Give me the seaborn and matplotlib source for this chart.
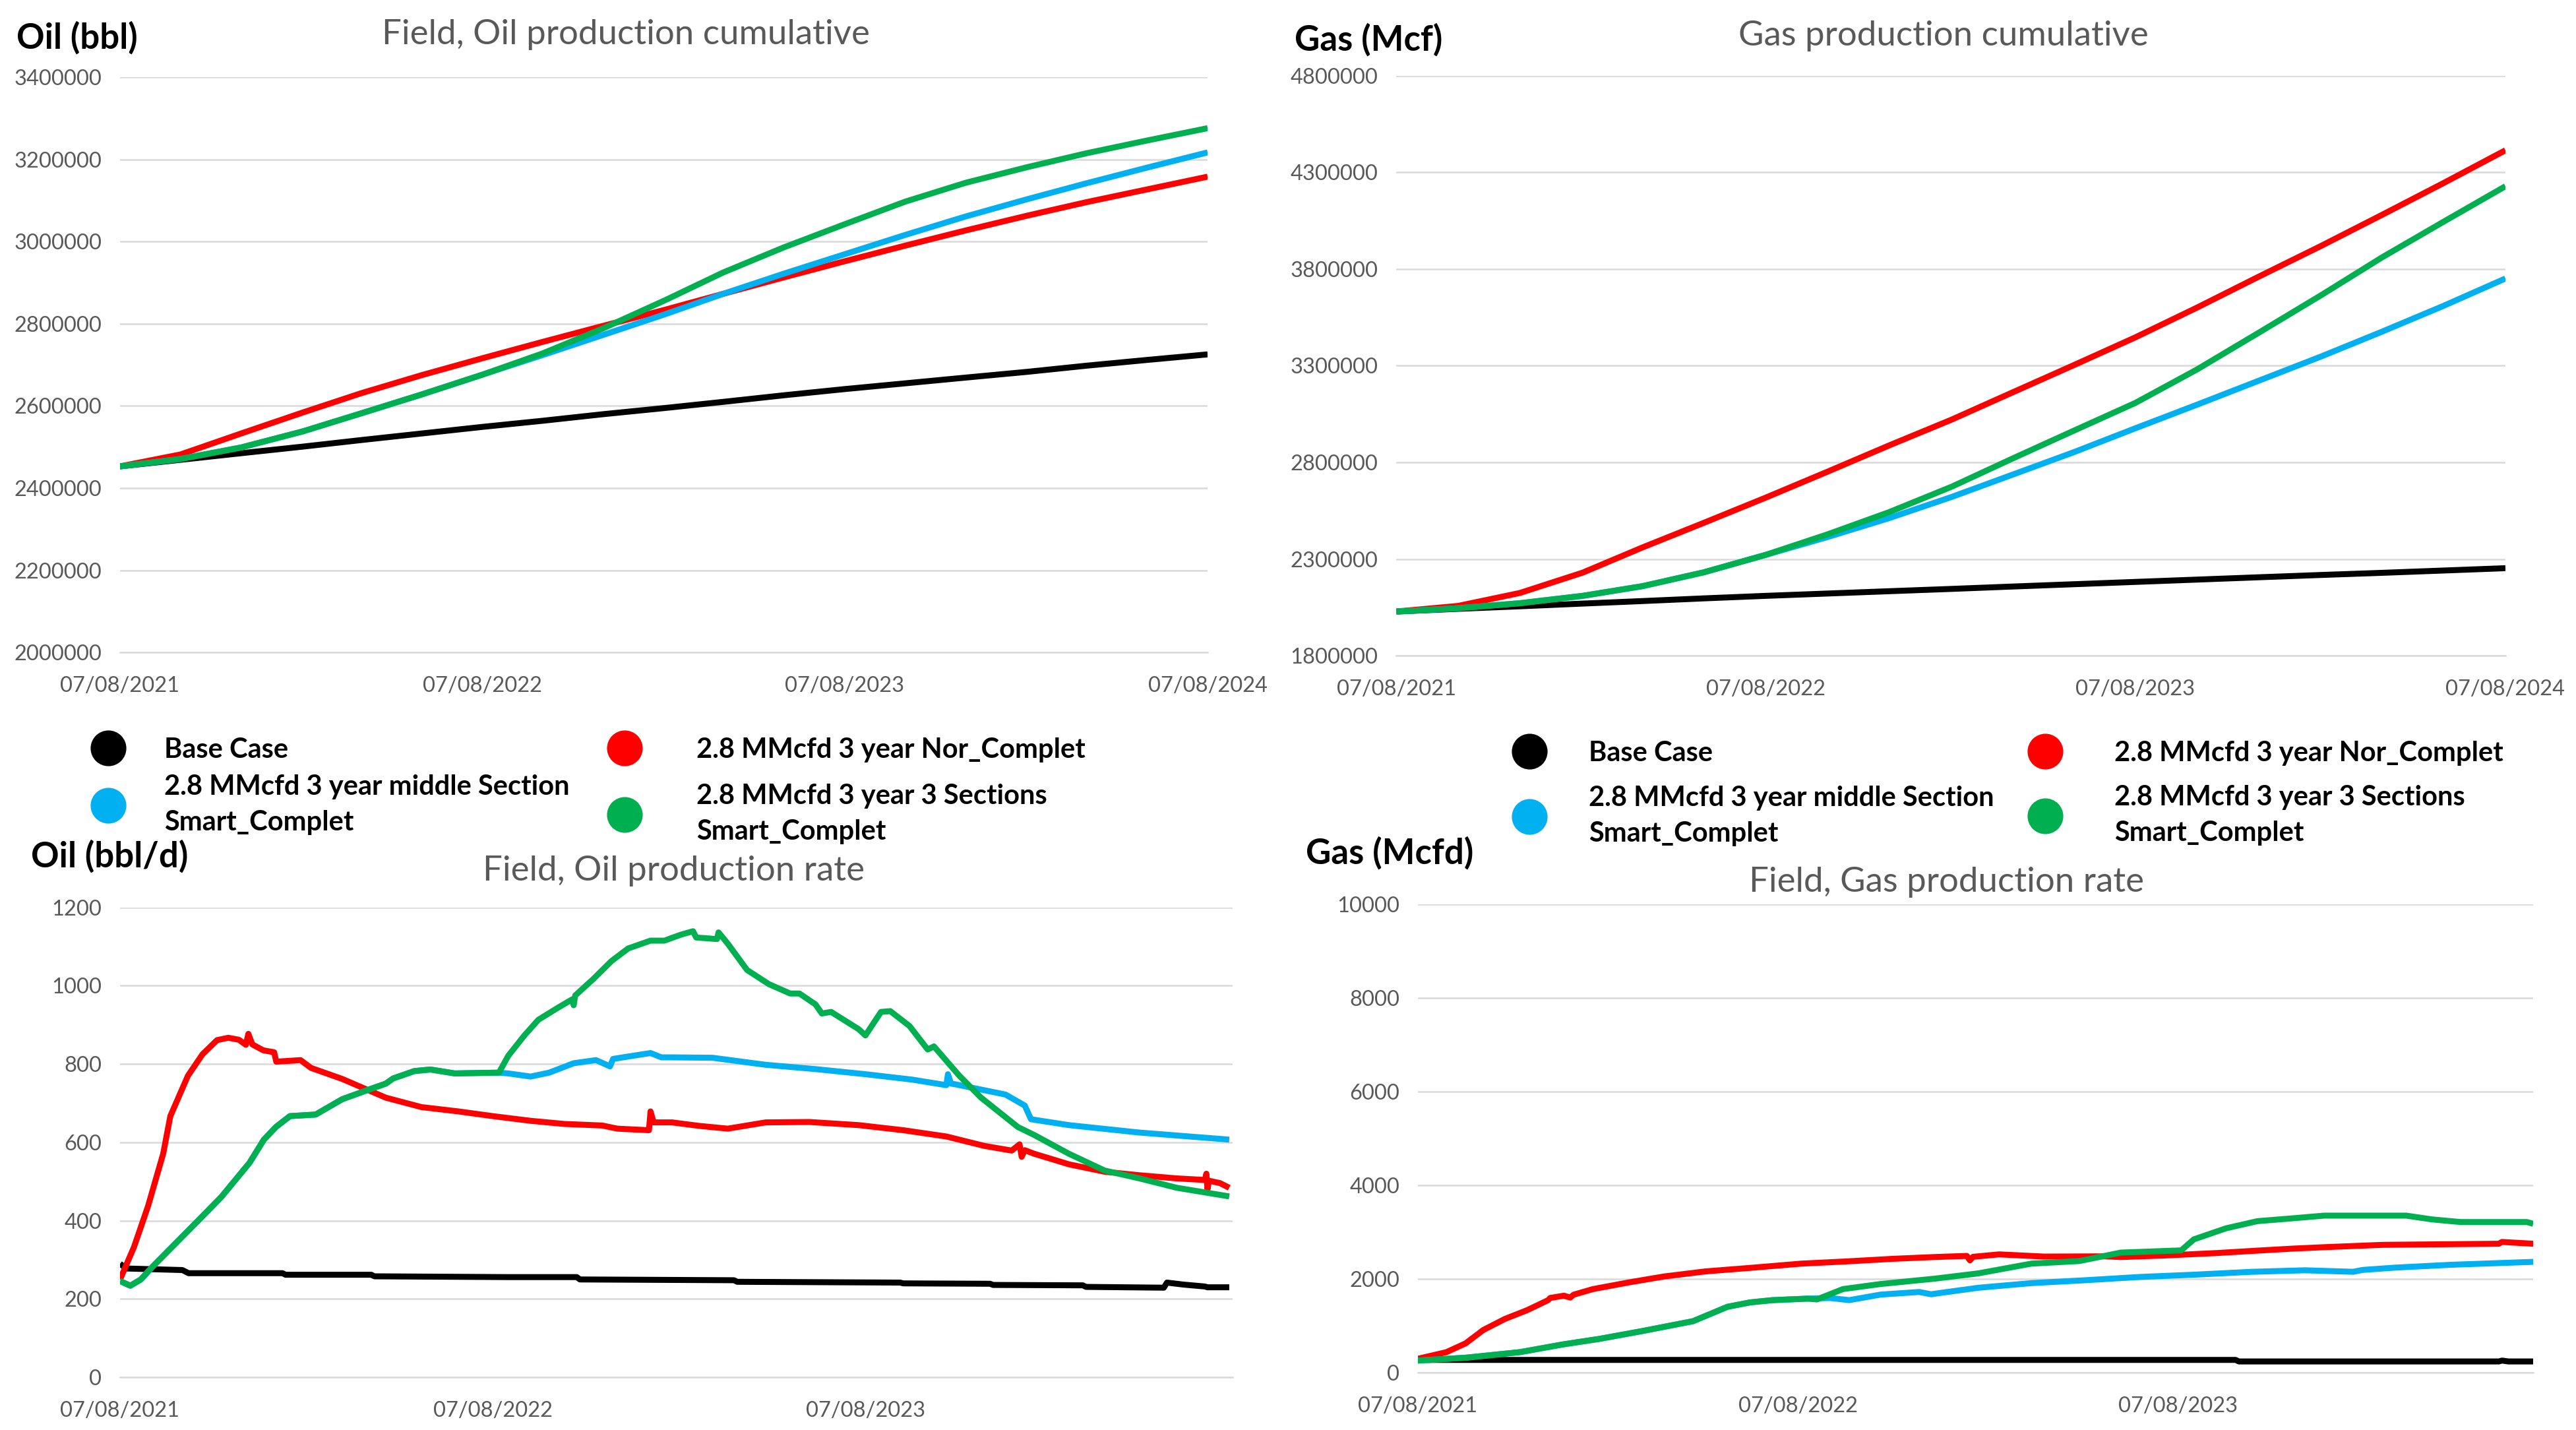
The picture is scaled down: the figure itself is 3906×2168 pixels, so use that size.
import numpy as np
import pandas as pd
import matplotlib
matplotlib.use("Agg")
import matplotlib.pyplot as plt
import matplotlib.dates as mdates
from matplotlib.lines import Line2D
import seaborn as sns

# ---------------- data ----------------
START = pd.Timestamp("2021-08-07")
CASES = ["Base Case",
         "2.8 MMcfd 3 year Nor_Complet",
         "2.8 MMcfd 3 year middle Section\nSmart_Complet",
         "2.8 MMcfd 3 year 3 Sections\nSmart_Complet"]
COLORS = ["#000000", "#FF0000", "#00B0F0", "#00B050"]

# cumulative curves, sampled every 2 months from 07/08/2021
cum_months = [0, 2, 4, 6, 8, 10, 12, 14, 16, 18, 20, 22, 24, 26, 28, 30, 32, 34, 36]
oil_cum_base = [2453000, 2469000, 2485000, 2501000, 2517000, 2533000, 2549000, 2564000, 2580000, 2595000,
                2610000, 2626000, 2641000, 2655000, 2669000, 2683000, 2698000, 2712000, 2725500]
oil_cum_nor = [2453000, 2482000, 2533000, 2584000, 2631000, 2675000, 2716000, 2756000, 2795000, 2834000,
               2873000, 2913000, 2952000, 2990000, 3027000, 3063000, 3096000, 3127000, 3158000]
oil_cum_mid = [2453000, 2471000, 2499000, 2538000, 2582000, 2628000, 2676000, 2724000, 2773000, 2823000,
               2873000, 2922000, 2969000, 3016000, 3061000, 3103000, 3142000, 3180000, 3217000]
oil_cum_3sec = [2453000, 2471000, 2499000, 2538000, 2582000, 2628000, 2676000, 2728000, 2789000, 2857000,
                2925000, 2986000, 3042000, 3097000, 3143000, 3181000, 3215000, 3246000, 3276000]

gas_cum_base = [2029000, 2043000, 2056000, 2070000, 2083000, 2097000, 2110000, 2122000, 2134000, 2146000,
                2158000, 2170000, 2182000, 2194000, 2206000, 2218000, 2229000, 2241000, 2253000]
gas_cum_nor = [2029000, 2058000, 2125000, 2230000, 2360000, 2488000, 2618000, 2752000, 2888000, 3022000,
               3160000, 3302000, 3446000, 3600000, 3760000, 3920000, 4080000, 4245000, 4414000]
gas_cum_mid = [2029000, 2046000, 2072000, 2110000, 2160000, 2232000, 2322000, 2414000, 2512000, 2622000,
               2735000, 2852000, 2976000, 3098000, 3222000, 3348000, 3476000, 3610000, 3751000]
gas_cum_3sec = [2029000, 2046000, 2072000, 2110000, 2160000, 2232000, 2322000, 2428000, 2543000, 2675000,
                2818000, 2963000, 3107000, 3280000, 3470000, 3665000, 3860000, 4045000, 4228000]

# oil rate (bbl/d): month offsets from 07/08/2021 and values
oil_rate_base_m = [0, 0.2, 2.0, 2.2, 5.2, 5.3, 8.1, 8.2, 12.5, 14.7, 14.8, 19.8, 19.9, 25.1, 25.2, 28.0,
                   28.1, 31.0, 31.1, 33.6, 33.7, 34.2, 34.9, 35.0, 35.7]
oil_rate_base = [290, 278, 274, 266, 266, 262, 262, 258, 256, 256, 250, 248, 244, 242, 240, 239,
                 236, 235, 231, 229, 242, 237, 232, 230, 230]

oil_rate_nor_m = [0, 0.45, 0.9, 1.37, 1.6, 2.18, 2.65, 3.1, 3.46, 3.8, 4.04, 4.12, 4.25, 4.6, 4.95, 5.0,
                  5.4, 5.78, 6.1, 7.18, 8.57, 9.73, 10.9, 12.0, 13.2, 14.3, 15.5, 16.0, 17.0, 17.05,
                  17.15, 17.74, 18.6, 19.6, 20.8, 22.2, 23.8, 25.2, 26.6, 27.8, 28.7, 28.95, 29.0,
                  29.1, 29.4, 30.5, 31.7, 32.8, 34.0, 34.9, 34.95, 35.0, 35.05, 35.4, 35.7]
oil_rate_nor = [250, 333, 437, 571, 667, 770, 825, 861, 867, 862, 849, 877, 850, 835, 830, 806,
                808, 810, 790, 762, 714, 690, 679, 667, 655, 647, 643, 635, 631, 679,
                651, 651, 642, 635, 651, 652, 644, 631, 615, 591, 579, 595, 563,
                580, 571, 544, 525, 516, 508, 504, 520, 480, 502, 496, 484]

oil_rate_mid_m = [0, 0.33, 0.67, 1.02, 2.07, 3.23, 4.16, 4.62, 5.0, 5.44, 6.25, 7.18, 8.1, 8.57, 8.8,
                  9.5, 10.0, 10.78, 12.2, 12.5, 13.2, 13.8, 14.6, 15.3, 15.75, 15.85, 16.5, 17.05,
                  17.4, 17.74, 19.1, 20.8, 22.4, 24.0, 25.5, 26.6, 26.65, 26.75, 26.9, 28.5, 29.1,
                  29.3, 30.5, 32.8, 35.7]
oil_rate_mid = [246, 234, 250, 282, 365, 460, 548, 607, 640, 667, 671, 710, 737, 750, 763,
                782, 786, 776, 778, 776, 768, 778, 802, 810, 794, 813, 821, 828,
                817, 817, 816, 798, 787, 774, 760, 746, 774, 750, 748, 722, 694,
                659, 644, 625, 607]

oil_rate_3sec_m = [0, 0.33, 0.67, 1.02, 2.07, 3.23, 4.16, 4.62, 5.0, 5.44, 6.25, 7.18, 8.1, 8.57, 8.8,
                   9.5, 10.0, 10.78, 12.2, 12.5, 13.0, 13.45, 14.1, 14.55, 14.6, 14.65, 15.2, 15.8,
                   16.35, 17.05, 17.5, 18.0, 18.4, 18.5, 19.25, 19.3, 19.6, 20.2, 20.9, 21.6, 21.9,
                   22.4, 22.6, 22.9, 23.8, 24.0, 24.5, 24.8, 25.4, 26.0, 26.2, 27.0, 27.7, 28.9,
                   29.4, 30.5, 31.7, 32.8, 34.0, 35.7]
oil_rate_3sec = [246, 234, 250, 282, 365, 460, 548, 607, 640, 667, 671, 710, 737, 750, 763,
                 782, 786, 776, 778, 821, 873, 913, 944, 965, 950, 975, 1016, 1063,
                 1095, 1115, 1115, 1130, 1139, 1123, 1119, 1136, 1107, 1040, 1004, 980, 980,
                 952, 929, 933, 889, 873, 933, 935, 897, 837, 845, 770, 714, 639,
                 619, 571, 528, 508, 484, 462]

# gas rate (Mcfd)
gas_rate_base_m = [0, 0.3, 25.8, 25.9, 34.1, 34.2, 34.4, 35.2]
gas_rate_base = [290, 269, 269, 236, 236, 255, 236, 236]

gas_rate_nor_m = [0, 0.9, 1.49, 2.06, 2.74, 3.43, 4.1, 4.17, 4.6, 4.8, 4.91, 5.5, 6.6, 7.8, 9.1, 10.6,
                  12.1, 13.5, 15.0, 16.3, 17.3, 17.4, 17.5, 18.3, 19.8, 21.7, 22.2, 23.6, 25.2, 26.4,
                  27.6, 28.7, 30.4, 34.1, 34.2, 35.2]
gas_rate_nor = [293, 434, 623, 907, 1143, 1332, 1544, 1592, 1640, 1600, 1662, 1781, 1922, 2050, 2158, 2239,
                2324, 2371, 2428, 2465, 2489, 2395, 2470, 2522, 2475, 2480, 2465, 2498, 2550, 2598,
                2645, 2678, 2725, 2749, 2787, 2749]

gas_rate_mid_m = [0, 1.49, 3.2, 4.57, 5.7, 7.1, 8.7, 9.8, 10.5, 11.2, 12.3, 13.0, 13.6, 14.6, 15.8,
                  16.2, 16.5, 17.66, 19.4, 21.1, 22.8, 24.5, 26.3, 28.0, 29.5, 29.8, 30.8, 32.6, 35.2]
gas_rate_mid = [255, 316, 435, 600, 718, 883, 1096, 1403, 1497, 1544, 1577, 1590, 1545, 1663, 1719,
                1670, 1700, 1809, 1908, 1970, 2040, 2088, 2149, 2182, 2150, 2190, 2239, 2300, 2362]

gas_rate_3sec_m = [0, 1.49, 3.2, 4.57, 5.7, 7.1, 8.7, 9.8, 10.5, 11.2, 12.3, 12.6, 13.4, 14.6, 16.3,
                   17.66, 19.4, 20.9, 22.2, 24.1, 24.5, 25.5, 26.5, 27.6, 28.6, 31.2, 32.0, 32.9,
                   35.0, 35.2]
gas_rate_3sec = [255, 316, 435, 600, 718, 883, 1096, 1403, 1497, 1544, 1577, 1560, 1781, 1889, 2003,
                 2116, 2324, 2380, 2560, 2607, 2843, 3079, 3231, 3292, 3349, 3349, 3268, 3212,
                 3212, 3174]

oil_cum_ticks = [2000000, 2200000, 2400000, 2600000, 2800000, 3000000, 3200000, 3400000]
gas_cum_ticks = [1800000, 2300000, 2800000, 3300000, 3800000, 4300000, 4800000]
oil_rate_ticks = [0, 200, 400, 600, 800, 1000, 1200]
gas_rate_ticks = [0, 2000, 4000, 6000, 8000, 10000]
date_ticks = ["2021-08-07", "2022-08-07", "2023-08-07", "2024-08-07"]

# ---------------- helpers ----------------
def to_date(m):
    whole = int(np.floor(m))
    return START + pd.DateOffset(months=whole) + pd.Timedelta(days=(m - whole) * 30.44)


def frame(series):
    parts = []
    for case, (months, vals) in zip(CASES, series):
        parts.append(pd.DataFrame({"date": [to_date(m) for m in months],
                                   "value": vals, "case": case}))
    return pd.concat(parts, ignore_index=True)


sns.set_style("white")
plt.rcParams["font.family"] = ["Lato", "DejaVu Sans"]

TXT = "#595959"
GRID = "#D9D9D9"
PALETTE = dict(zip(CASES, COLORS))
LW = 6.5
TICK_FS = 23.5
TITLE_FS = 38
UNIT_FS = 38
LEG_FS = 30

fig = plt.figure(figsize=(39.06, 21.68), dpi=100)
fig.patch.set_facecolor("white")

ax_tl = fig.add_axes([0.0466, 0.5437, 0.4222, 0.4023])
ax_tr = fig.add_axes([0.5421, 0.5414, 0.4305, 0.4057])
ax_bl = fig.add_axes([0.0466, 0.0368, 0.4318, 0.3287])
ax_br = fig.add_axes([0.5504, 0.0402, 0.4330, 0.3276])

panels = [
    (ax_tl, frame([(cum_months, oil_cum_base), (cum_months, oil_cum_nor),
                   (cum_months, oil_cum_mid), (cum_months, oil_cum_3sec)]),
     oil_cum_ticks, 36.0, date_ticks),
    (ax_tr, frame([(cum_months, gas_cum_base), (cum_months, gas_cum_nor),
                   (cum_months, gas_cum_mid), (cum_months, gas_cum_3sec)]),
     gas_cum_ticks, 36.0, date_ticks),
    (ax_bl, frame([(oil_rate_base_m, oil_rate_base), (oil_rate_nor_m, oil_rate_nor),
                   (oil_rate_mid_m, oil_rate_mid), (oil_rate_3sec_m, oil_rate_3sec)]),
     oil_rate_ticks, 35.8, date_ticks[:3]),
    (ax_br, frame([(gas_rate_base_m, gas_rate_base), (gas_rate_nor_m, gas_rate_nor),
                   (gas_rate_mid_m, gas_rate_mid), (gas_rate_3sec_m, gas_rate_3sec)]),
     gas_rate_ticks, 35.2, date_ticks[:3]),
]

for ax, df, yt, xend, xt in panels:
    sns.lineplot(data=df, x="date", y="value", hue="case", hue_order=CASES,
                 palette=PALETTE, linewidth=LW, estimator=None, legend=False,
                 ax=ax, solid_capstyle="butt", solid_joinstyle="round")
    ax.set_ylim(yt[0], yt[-1])
    ax.set_yticks(yt)
    ax.set_yticklabels([str(v) for v in yt])
    ax.set_xlim(START, to_date(xend))
    ax.set_xticks([pd.Timestamp(d) for d in xt])
    ax.xaxis.set_major_formatter(mdates.DateFormatter("%d/%m/%Y"))
    ax.set_xlabel("")
    ax.set_ylabel("")
    ax.grid(axis="y", color=GRID, linewidth=1.8)
    ax.grid(axis="x", visible=False)
    ax.set_axisbelow(True)
    for s in ["top", "right", "left"]:
        ax.spines[s].set_visible(False)
    ax.spines["bottom"].set_color(GRID)
    ax.spines["bottom"].set_linewidth(1.8)
    ax.tick_params(axis="y", length=0, pad=20, labelsize=TICK_FS, labelcolor=TXT)
    ax.tick_params(axis="x", length=9, width=1.8, color=GRID, pad=17,
                   labelsize=TICK_FS, labelcolor=TXT)
    ax.set_facecolor("white")

# titles and unit labels
fig.text(0.2430, 0.976, "Field, Oil production cumulative", ha="center", va="center",
         fontsize=TITLE_FS, color=TXT)
fig.text(0.7545, 0.9747, "Gas production cumulative", ha="center", va="center",
         fontsize=TITLE_FS, color=TXT)
fig.text(0.2615, 0.391, "Field, Oil production rate", ha="center", va="center",
         fontsize=TITLE_FS, color=TXT)
fig.text(0.7557, 0.383, "Field, Gas production rate", ha="center", va="center",
         fontsize=TITLE_FS, color=TXT)

fig.text(0.0064, 0.9737, "Oil (bbl)", ha="left", va="center", fontsize=UNIT_FS,
         fontweight="bold", color="black")
fig.text(0.5026, 0.9723, "Gas (Mcf)", ha="left", va="center", fontsize=UNIT_FS,
         fontweight="bold", color="black")
fig.text(0.0121, 0.4013, "Oil (bbl/d)", ha="left", va="center", fontsize=UNIT_FS,
         fontweight="bold", color="black")
fig.text(0.5070, 0.4037, "Gas (Mcfd)", ha="left", va="center", fontsize=UNIT_FS,
         fontweight="bold", color="black")


# legends (two columns under each upper chart)
def add_legend(x0, y0, idx, pad, spacing):
    handles = [Line2D([], [], ls="", marker="o", ms=38, color=COLORS[i], mec=COLORS[i])
               for i in idx]
    leg = fig.legend(handles, [CASES[i] for i in idx], loc="upper left",
                     bbox_to_anchor=(x0, y0), frameon=False, borderpad=0,
                     borderaxespad=0, handlelength=1.08, handletextpad=pad,
                     labelspacing=spacing,
                     prop={"family": ["Lato", "DejaVu Sans"], "weight": "bold", "size": LEG_FS})
    for t in leg.get_texts():
        t.set_linespacing(1.52)
        t.set_color("black")
    return leg


add_legend(0.0362, 0.4845, [0, 2], 1.50, 0.45)
add_legend(0.2367, 0.4845, [1, 3], 2.07, 0.78)
add_legend(0.5880, 0.4822, [0, 2], 1.62, 0.72)
add_legend(0.7882, 0.4822, [1, 3], 1.98, 0.70)

fig.savefig("out.png", dpi=100, facecolor="white")
